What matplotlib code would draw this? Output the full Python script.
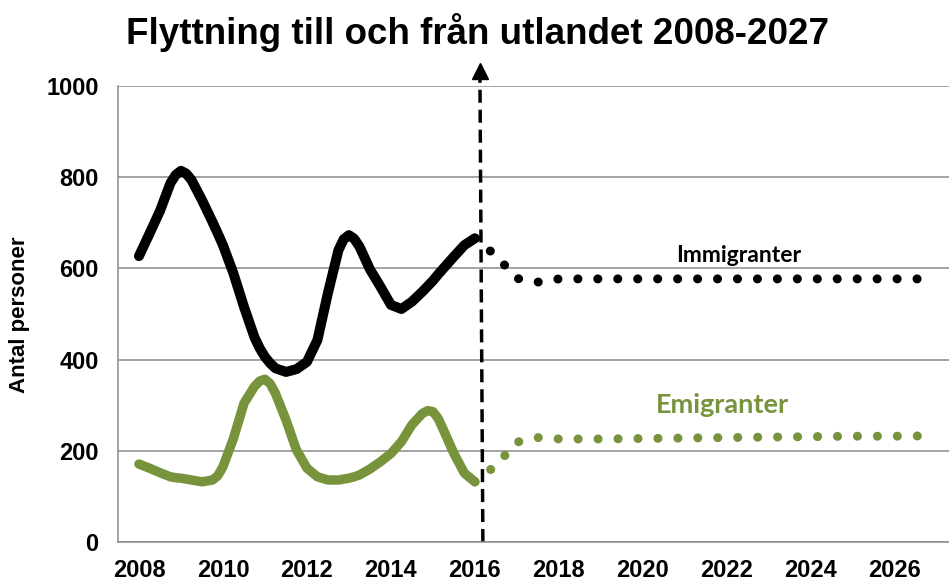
import matplotlib
matplotlib.use('Agg')
import matplotlib.pyplot as plt

# Historik (ungefär per kvartal)
years_hist = [2008.0, 2008.25, 2008.5, 2008.75, 2008.875, 2009.0, 2009.125, 2009.25, 2009.5, 2009.75,
              2009.875, 2010.0, 2010.25, 2010.5, 2010.75, 2010.875, 2011.0, 2011.125, 2011.25, 2011.5, 2011.75,
              2012.0, 2012.25, 2012.5, 2012.75, 2012.875, 2013.0, 2013.125, 2013.25, 2013.5, 2013.75,
              2014.0, 2014.25, 2014.5, 2014.75, 2014.875, 2015.0, 2015.125, 2015.25, 2015.5, 2015.75, 2016.0]
immigranter_hist = [627, 676, 726, 787, 805, 814, 808, 794, 750, 702,
                    677, 651, 589, 516, 449, 425, 406, 392, 381, 373, 379,
                    395, 443, 546, 640, 664, 673, 665, 648, 598, 560,
                    520, 511, 527, 549, 561, 573, 587, 600, 626, 651, 666]
emigranter_hist = [171, 162, 152, 143, 141, 140, 138, 136, 132, 136,
                   145, 165, 227, 304, 341, 353, 357, 347, 326, 268, 202,
                   162, 143, 136, 136, 138, 140, 143, 147, 160, 176,
                   194, 220, 257, 282, 288, 286, 271, 246, 194, 151, 132]

# Prognos
years_prog = [2016.0, 2016.5, 2017.0, 2017.5, 2018, 2019, 2020, 2021, 2022, 2023, 2024, 2025, 2026, 2027]
immigranter_prog = [666, 628, 578, 570, 577, 577, 577, 577, 577, 577, 577, 577, 577, 577]
emigranter_prog = [132, 168, 219, 229, 226, 226, 227, 228, 229, 230, 231, 232, 232, 233]

xticks = [2008, 2010, 2012, 2014, 2016, 2018, 2020, 2022, 2024, 2026]
yticks = [0, 200, 400, 600, 800, 1000]

green = '#77933C'
grid_gray = '#8a8a8a'

plt.rcParams['font.family'] = ['Liberation Sans', 'DejaVu Sans']

fig = plt.figure(figsize=(9.49, 5.83), dpi=100)
ax = fig.add_axes([0.1243, 0.0703, 0.885, 0.7822])

ax.plot(years_hist, immigranter_hist, color='black', lw=7.2, solid_capstyle='round', solid_joinstyle='round')
ax.plot(years_hist, emigranter_hist, color=green, lw=6.8, solid_capstyle='round', solid_joinstyle='round')
ax.plot(years_prog, immigranter_prog, color='black', lw=6.5, linestyle=(0, (0.01, 2.2)),
        dash_capstyle='round')
ax.plot(years_prog, emigranter_prog, color=green, lw=6.5, linestyle=(0, (0.01, 2.2)),
        dash_capstyle='round')

# vertikal streckad pil vid 2016
ax.plot([2016.19, 2016.12], [0, 1020], color='black', lw=2.5, dashes=(3.75, 2), clip_on=False)
ax.plot([2016.12], [1032], marker='^', color='black', markersize=11, clip_on=False)

ax.set_xlim(2007.5, 2027.5)
ax.set_ylim(0, 1000)
ax.set_xticks(xticks)
ax.set_yticks(yticks)
ax.set_xticklabels([str(x) for x in xticks], fontweight='bold', fontsize=17)
ax.set_yticklabels([str(y) for y in yticks], fontweight='bold', fontsize=17)
ax.tick_params(axis='both', length=0)
ax.tick_params(axis='y', pad=14)
ax.tick_params(axis='x', pad=12)
ax.grid(axis='y', color=grid_gray, lw=1.1)
ax.set_axisbelow(True)
for side in ['top', 'right']:
    ax.spines[side].set_visible(False)
for side in ['left', 'bottom']:
    ax.spines[side].set_color(grid_gray)
    ax.spines[side].set_linewidth(1.1)

ax.text(2022.29, 629, 'Immigranter', fontsize=16.5, fontweight='bold', family=['Lato', 'DejaVu Sans'],
        ha='center', va='center', color='black')
ax.text(2021.9, 300, 'Emigranter', fontsize=19.5, fontweight='bold', family=['Lato', 'DejaVu Sans'],
        ha='center', va='center', color=green)

fig.text(478 / 949, 1 - 33 / 583, 'Flyttning till och från utlandet 2008-2027',
         fontsize=26.5, fontweight='bold', ha='center', va='center')
fig.text(20 / 949, 1 - 315 / 583, 'Antal personer', fontsize=16, fontweight='bold',
         rotation=90, ha='center', va='center')

fig.savefig('out.png', dpi=100)
